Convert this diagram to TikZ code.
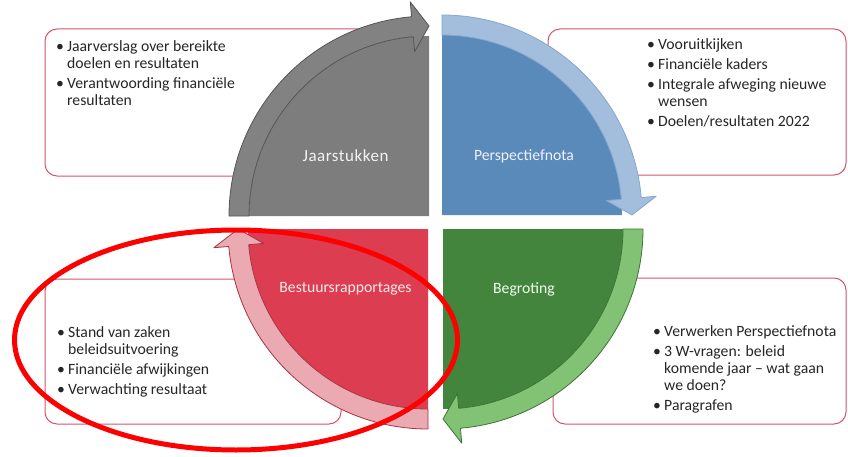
\documentclass[tikz,border=0pt]{standalone}
\usepackage{fontspec}
\setmainfont{Carlito}
\usetikzlibrary{calc}
\definecolor{boxedge}{HTML}{D45668}
\definecolor{txt}{HTML}{262626}
\definecolor{grayD}{HTML}{7D7D7D}
\definecolor{grayB}{HTML}{828282}
\definecolor{grayL}{HTML}{555555}
\definecolor{blueD}{HTML}{5A8ABA}
\definecolor{blueB}{HTML}{A3BEDD}
\definecolor{blueL}{HTML}{86A6CE}
\definecolor{greenD}{HTML}{43853C}
\definecolor{greenB}{HTML}{82C275}
\definecolor{greenL}{HTML}{3D7335}
\definecolor{redD}{HTML}{DC3D50}
\definecolor{redB}{HTML}{EBA9B1}
\definecolor{redL}{HTML}{A83343}
\newcommand\bl[1]{\makebox[11pt][l]{\textbullet}#1}
\newcommand\cl[1]{\hspace*{11pt}#1}
% center, start angle, disc colour, band colour, outline colour
\newcommand\qsector[5]{%
  \fill[#3] (#1) -- ($(#1)+(#2:180pt)$) arc[start angle=#2, end angle=#2-90, radius=180pt] -- cycle;
  \filldraw[fill=#4, draw=#5, line width=0.8pt, line join=round]
    ($(#1)+(#2:200pt)$) arc[start angle=#2, end angle=#2-85, radius=200pt]
    -- ($(#1)+(#2-85:215pt)$) -- ($(#1)+(#2-90:190pt)$) -- ($(#1)+(#2-85:165pt)$)
    -- ($(#1)+(#2-85:180pt)$) arc[start angle=#2-85, end angle=#2, radius=180pt] -- cycle;
}
\begin{document}
\begin{tikzpicture}[x=1pt,y=1pt,
  infobox/.style={draw=boxedge, line width=1pt, rounded corners=12pt, fill=white},
  listtext/.style={anchor=base west, inner sep=0pt, text=txt, font=\fontsize{15.7}{17}\selectfont},
  label/.style={inner sep=0pt, font=\fontsize{15.7}{17}\selectfont}]
\useasboundingbox (0,0) rectangle (848,456);
\fill[white] (0,0) rectangle (848,456);
% info boxes
\draw[infobox] (45,427) rectangle (420,280);
\draw[infobox] (548,427) rectangle (846,281);
\draw[infobox] (45,177) rectangle (341,32);
\draw[infobox] (553,178) rectangle (846,32);
% quadrants
\coordinate (G) at (429,240);
\coordinate (B) at (442,241);
\coordinate (N) at (443,227);
\coordinate (R) at (428,227);
\qsector{G}{180}{grayD}{grayB}{grayL}
\qsector{B}{90}{blueD}{blueB}{blueL}
\qsector{N}{0}{greenD}{greenB}{greenL}
\qsector{R}{-90}{redD}{redB}{redL}
% labels
\node[label, text=white!95!black, font=\fontsize{17}{18}\selectfont] (lj) at (345.5,300) {\addfontfeature{LetterSpace=3}Jaarstukken};
\node[label, text=blue!6!white] (lp) at (524,300) {Perspectiefnota};
\node[label, text=red!8!white] (lb) at (345.5,167) {Bestuursrapportages};
\node[label, text=green!6!white] (lg) at (524,167) {Begroting};
% list texts
\node[listtext] (ttl) at (56,404) {\begin{tabular}[t]{@{}l@{}}
\bl{Jaarverslag over bereikte}\\ \cl{doelen en resultaten}\\[3pt]
\bl{Verantwoording financiële}\\ \cl{resultaten}\end{tabular}};
\node[listtext] (ttr) at (647,406) {\begin{tabular}[t]{@{}l@{}}
\bl{Vooruitkijken}\\[3pt] \bl{Financiële kaders}\\[3pt]
\bl{Integrale afweging nieuwe}\\ \cl{wensen}\\[3pt]
\bl{Doelen/resultaten 2022}\end{tabular}};
\node[listtext] (tbl) at (57,119) {\begin{tabular}[t]{@{}l@{}}
\bl{Stand van zaken}\\ \cl{beleidsuitvoering}\\[3pt]
\bl{Financiële afwijkingen}\\[3pt] \bl{Verwachting resultaat}\end{tabular}};
\node[listtext] (tbr) at (653,120) {\begin{tabular}[t]{@{}l@{}}
\bl{Verwerken Perspectiefnota}\\[3pt]
\bl{3 W-vragen: beleid}\\ \cl{komende jaar – wat gaan}\\ \cl{we doen?}\\[3pt]
\bl{Paragrafen}\end{tabular}};
% highlight ellipse
\draw[red, line width=5pt] (236,116) ellipse [x radius=221.5pt, y radius=110pt];
\end{tikzpicture}
\end{document}
